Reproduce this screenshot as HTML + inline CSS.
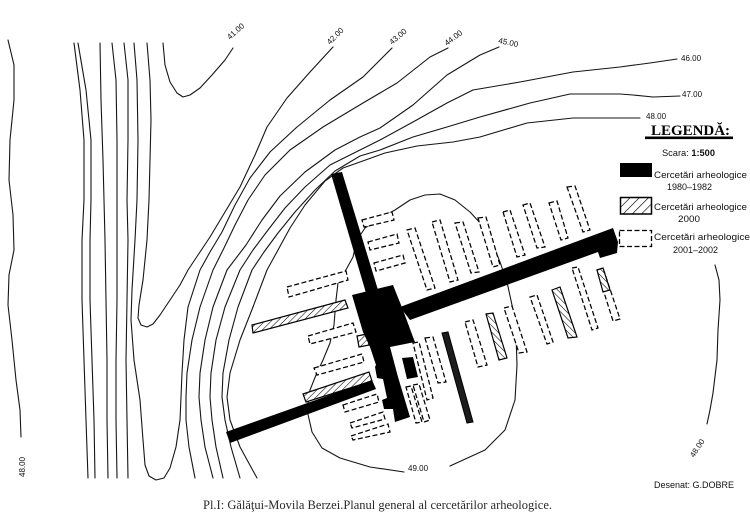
<!DOCTYPE html>
<html><head><meta charset="utf-8"><style>html,body{margin:0;padding:0;background:#fff}svg{display:block}</style></head>
<body>
<svg width="750" height="522" viewBox="0 0 750 522" xmlns="http://www.w3.org/2000/svg">
<defs>
<pattern id="hs" patternUnits="userSpaceOnUse" width="4.5" height="4.5" patternTransform="rotate(45)"><rect width="4.5" height="4.5" fill="#fff"/><line x1="0" y1="0" x2="0" y2="4.5" stroke="#000" stroke-width="1.1"/></pattern>
<pattern id="hb" patternUnits="userSpaceOnUse" width="4.5" height="4.5" patternTransform="rotate(-45)"><rect width="4.5" height="4.5" fill="#fff"/><line x1="0" y1="0" x2="0" y2="4.5" stroke="#000" stroke-width="1.1"/></pattern>
<pattern id="hl" patternUnits="userSpaceOnUse" width="6.5" height="6.5" patternTransform="rotate(45)"><rect width="6.5" height="6.5" fill="#fff"/><line x1="0" y1="0" x2="0" y2="6.5" stroke="#000" stroke-width="1.3"/></pattern>
</defs>
<rect width="750" height="522" fill="#fff"/>

<!-- contour lines -->
<g fill="none" stroke="#151515" stroke-width="1.1" stroke-linejoin="round" stroke-linecap="round">
<polyline points="8,40 14,65 14,100 10,140 9,180 13,215 14,250 9,275 8,305 12,340 16,380 20,410 21,437"/>
<polyline points="74,43 80,90 84,140 84,200 82,240 82,300 84,360 86,420 88,478"/>
<polyline points="78,43 86,90 91,140 91,200 90,240 90,300 92,360 94,420 95,478"/>
<polyline points="100,43 101,100 103,160 104,200 105,240 106,300 107,360 107,420 108,478"/>
<polyline points="112,43 116,80 117,140 117,200 117,240 117,300 116,360 116,420 117,478"/>
<polyline points="124,43 128,80 128,140 127,200 128,240 127,300 126,360 127,420 128,478"/>
<!-- 41 -->
<polyline points="163,43 165,65 170,82 177,93 183,97 190,95 200,88 212,75 225,60 233,48"/>
<!-- 42 -->
<polyline points="147,43 150,80 151,120 150,160 149,200 147,240 143,280 139,305 138,318 141,325 147,327 153,324 160,315 170,300 180,285 188,270 198,255 210,237 225,212 240,187 255,155 267,127 287,98 310,72 333,47"/>
<!-- 43 -->
<polyline points="134,43 137,80 138,140 137,200 135,240 132,290 131,320 134,360 140,400 143,440 145,465 149,476 156,480 164,478 170,468 176,447 180,420 181,397 182,373 184,340 188,307 200,270 210,252 222,232 235,205 250,178 270,152 297,127 330,100 363,77 392,48"/>
<!-- 44 -->
<polyline points="448,48 430,57 397,83 363,103 323,127 290,150 265,175 248,200 235,225 224,248 213,270 200,307 192,340 187,373 186,397 186,420 189,447 195,478"/>
<!-- 45 -->
<polyline points="499,47 480,55 447,75 413,105 380,128 360,137 335,150 305,172 280,196 262,220 246,245 227,270 213,307 205,340 200,373 199,397 201,420 205,447 213,478"/>
<!-- 46 -->
<polyline points="677,59 650,63 620,67 573,72 520,82 473,90 447,103 413,122 380,140 360,150 330,165 305,187 285,208 268,230 253,250 240,270 225,307 216,340 211,373 210,397 212,420 216,447 223,478"/>
<!-- 47 -->
<polyline points="680,96 653,97 633,95 620,94 570,94 530,103 480,117 447,127 413,137 380,150 360,156 335,171 315,190 295,212 278,233 264,252 252,270 238,307 229,340 223,373 222,397 225,420 231,447 240,478"/>
<!-- 48 -->
<polyline points="640,118 620,118 573,118 527,123 480,137 453,142 417,146 385,153 360,162 343,168 325,181 305,205 290,228 278,250 267,270 253,307 240,340 230,373 227,397 230,420 240,447 257,478"/>
<!-- right 48 -->
<polyline points="715,265 719,280 720,300 718,330 717,360 713,393 710,410 707,424"/>
<!-- mound 49 -->
<polyline points="450,466 485,450 505,430 515,400 517,365 516,335 512,305 507,282 500,262 492,242 482,225 470,212 455,200 440,194 425,195 410,200 395,210 380,218 365,228 357,240 353,257 347,268 338,283 336,300 334,325 330,343 323,360 316,375 310,390 307,410 312,432 322,448 340,458 370,467 404,472"/>
</g>

<!-- dashed rects -->
<g fill="#fff" stroke="#000" stroke-width="1.25" stroke-dasharray="5 2.5">
<polygon points="407,230 415,228 435,288 427,290"/>
<polygon points="432,222 440,220 458,280 450,282"/>
<polygon points="455,223 463,222 479,272 471,273"/>
<polygon points="478,218 486,217 500,265 493,267"/>
<polygon points="503,212 510,210 525,255 517,257"/>
<polygon points="523,205 530,203 545,247 537,248"/>
<polygon points="549,203 557,201 568,238 561,240"/>
<polygon points="567,187 575,186 590,230 583,232"/>
<polygon points="465,322 473,320 487,365 478,367"/>
<polygon points="504,308 512,306 527,352 519,353"/>
<polygon points="530,297 537,295 553,342 547,344"/>
<polygon points="572,268 578,267 598,328 592,330"/>
<polygon points="597,270 603,268 620,319 613,321"/>
<polygon points="413,343 419,342 433,398 427,400"/>
<polygon points="425,338 433,337 446,382 438,383"/>
<polygon points="406,387 411,386 422,422 416,423"/>
<polygon points="413,385 419,384 430,420 424,422"/>
<polygon points="362,220 392,212 394,220 364,227"/>
<polygon points="368,242 397,234 399,243 370,250"/>
<polygon points="374,263 403,255 405,263 376,271"/>
<polygon points="287,287 346,271 348,280 289,297"/>
<polygon points="308,336 353,323 356,332 310,344"/>
<polygon points="314,368 362,354 364,362 317,375"/>
<polygon points="343,405 377,394 379,402 345,412"/>
<polygon points="350,423 383,412 385,419 352,428"/>
<polygon points="351,436 388,424 390,432 353,440"/>
</g>

<!-- hatched -->
<g stroke="#000" stroke-width="1.2">
<polygon points="252,325 345,300 348,308 253,333" fill="url(#hs)"/>
<polygon points="357,336 367,334 369,345 359,347" fill="url(#hs)"/>
<polygon points="303,394 369,372 372,381 306,402" fill="url(#hs)"/>
<polygon points="486,314 493,313 507,358 499,360" fill="url(#hb)"/>
<polygon points="552,290 560,287 577,337 568,338" fill="url(#hb)"/>
<polygon points="597,270 603,268 610,290 603,292" fill="url(#hb)"/>
</g>

<!-- black trenches -->
<g fill="#000">
<polygon points="331,174 342,172 378,290 366,293"/>
<polygon points="352,295 393,285 403,310 413,337 415,342 390,347 398,377 410,417 395,422 393,409 384,409 382,400 387,398 383,379 377,378 375,367 376,365 370,347 363,332"/>
<polygon points="400,307 613,228 618,242 617,253 600,258 598,252 410,320"/>
<polygon points="226,432 372,380 376,389 230,443"/>
<polygon points="402,358 413,357 418,377 407,379"/>
<polygon points="442,333 448,332 473,422 467,423" fill="#1c1c1c" stroke="#000" stroke-width="1"/>
</g>

<!-- contour labels -->
<g font-family="Liberation Sans, DejaVu Sans, sans-serif" font-size="8" fill="#111">
<text x="0" y="0" transform="translate(230,40) rotate(-42)">41.00</text>
<text x="0" y="0" transform="translate(330,45) rotate(-45)">42.00</text>
<text x="0" y="0" transform="translate(392,45) rotate(-40)">43.00</text>
<text x="0" y="0" transform="translate(447,46) rotate(-37)">44.00</text>
<text x="0" y="0" transform="translate(498,43) rotate(12)">45.00</text>
<text x="681" y="61">46.00</text>
<text x="682" y="97">47.00</text>
<text x="646" y="119">48.00</text>
<text x="408" y="471">49.00</text>
<text x="0" y="0" transform="translate(25,477) rotate(-90)">48.00</text>
<text x="0" y="0" transform="translate(694,458) rotate(-57)">48.00</text>
<text x="654" y="488" font-size="9" textLength="80" lengthAdjust="spacingAndGlyphs">Desenat: G.DOBRE</text>
</g>

<!-- legend -->
<text x="651" y="135" font-family="Liberation Serif, serif" font-weight="bold" font-size="15" textLength="79" lengthAdjust="spacingAndGlyphs" fill="#000">LEGENDĂ:</text>
<rect x="645" y="136.5" width="88" height="2.6" fill="#000"/>
<text x="662" y="156" font-family="Liberation Sans, sans-serif" font-size="9.5" fill="#111" textLength="53" lengthAdjust="spacingAndGlyphs">Scara: <tspan font-weight="bold">1:500</tspan></text>
<rect x="620" y="163" width="32" height="14" fill="#000"/>
<rect x="620.5" y="197.5" width="31" height="16.5" fill="url(#hl)" stroke="#000" stroke-width="1.5"/>
<rect x="619.5" y="230.5" width="32" height="16" fill="#fff" stroke="#000" stroke-width="1.3" stroke-dasharray="5 2.5"/>
<g font-family="Liberation Sans, DejaVu Sans, sans-serif" font-size="9.5" fill="#111">
<text x="654" y="178" textLength="93" lengthAdjust="spacingAndGlyphs">Cercetări  arheologice</text>
<text x="667" y="190" textLength="45" lengthAdjust="spacingAndGlyphs">1980–1982</text>
<text x="654" y="210" textLength="93" lengthAdjust="spacingAndGlyphs">Cercetări  arheologice</text>
<text x="678" y="222" textLength="22" lengthAdjust="spacingAndGlyphs">2000</text>
<text x="654" y="240" textLength="96" lengthAdjust="spacingAndGlyphs">Cercetări arheologice</text>
<text x="673" y="253" textLength="45" lengthAdjust="spacingAndGlyphs">2001–2002</text>
</g>

<!-- caption -->
<text x="203" y="509" font-family="Liberation Serif, serif" font-size="12.5" fill="#2a2a2a" textLength="349" lengthAdjust="spacingAndGlyphs">Pl.I: Gălăţui-Movila Berzei.Planul general al cercetărilor arheologice.</text>
</svg>
</body></html>
